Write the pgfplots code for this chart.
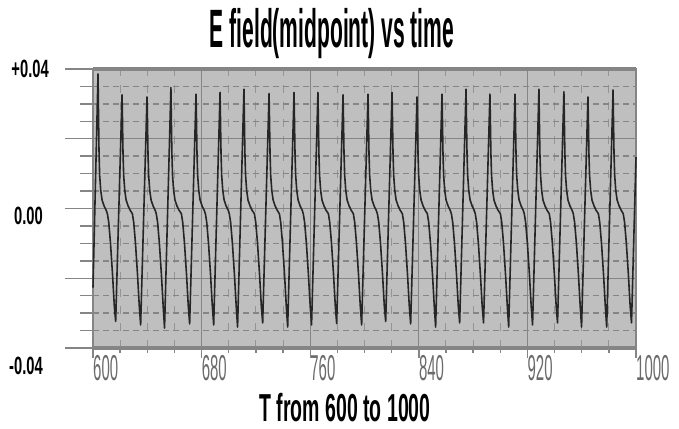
\documentclass[border=0pt]{standalone}
\usepackage{pgfplots}
\pgfplotsset{compat=1.18}
\usepackage{fontspec}
\setmainfont{Liberation Sans}
\newfontfamily\titlefont[FakeStretch=0.39]{Liberation Sans}
\newfontfamily\xlabfont[FakeStretch=0.5]{Liberation Sans}
\newfontfamily\ylabfont[FakeStretch=0.59]{Liberation Sans}
\newfontfamily\xtickfont[FakeStretch=0.416]{Liberation Sans}
\pgfplotstableread{
x y
600.0 -0.0227
603.7 0.0386
604.0 0.029
604.4 0.017
604.9 0.0095
605.7 0.0052
606.7 0.0024
608.2 0.0007
609.7 -0.0005
610.6 -0.0015
611.6 -0.004
612.9 -0.010
614.4 -0.019
615.7 -0.028
616.7 -0.0324
621.4 0.0326
621.7 0.026
622.1 0.016
622.6 0.0095
623.4 0.0052
624.4 0.0024
625.9 0.0007
627.4 -0.0005
629.0 -0.0015
630.0 -0.004
631.3 -0.010
632.8 -0.019
634.1 -0.028
635.1 -0.0334
639.8 0.032
640.1 0.026
640.5 0.016
641.0 0.0095
641.8 0.0052
642.8 0.0024
644.3 0.0007
645.8 -0.0005
646.6 -0.0015
647.6 -0.004
648.9 -0.010
650.4 -0.019
651.7 -0.028
652.7 -0.0343
657.4 0.0347
657.7 0.026
658.1 0.016
658.6 0.0095
659.4 0.0052
660.4 0.0024
661.9 0.0007
663.4 -0.0005
665.1 -0.0015
666.1 -0.004
667.4 -0.010
668.9 -0.019
670.2 -0.028
671.2 -0.0331
675.9 0.0328
676.2 0.026
676.6 0.016
677.1 0.0095
677.9 0.0052
678.9 0.0024
680.4 0.0007
681.9 -0.0005
682.8 -0.0015
683.8 -0.004
685.1 -0.010
686.6 -0.019
687.9 -0.028
688.9 -0.0334
693.6 0.0333
693.9 0.026
694.3 0.016
694.8 0.0095
695.6 0.0052
696.6 0.0024
698.1 0.0007
699.6 -0.0005
700.4 -0.0015
701.4 -0.004
702.7 -0.010
704.2 -0.019
705.5 -0.028
706.5 -0.034
711.2 0.0342
711.5 0.026
711.9 0.016
712.4 0.0095
713.2 0.0052
714.2 0.0024
715.7 0.0007
717.2 -0.0005
718.9 -0.0015
719.9 -0.004
721.2 -0.010
722.7 -0.019
724.0 -0.028
725.0 -0.0328
729.7 0.033
730.0 0.026
730.4 0.016
730.9 0.0095
731.7 0.0052
732.7 0.0024
734.2 0.0007
735.7 -0.0005
737.3 -0.0015
738.3 -0.004
739.6 -0.010
741.1 -0.019
742.4 -0.028
743.4 -0.034
748.1 0.0333
748.4 0.026
748.8 0.016
749.3 0.0095
750.1 0.0052
751.1 0.0024
752.6 0.0007
754.1 -0.0005
754.9 -0.0015
755.9 -0.004
757.2 -0.010
758.7 -0.019
760.0 -0.028
761.0 -0.0334
765.7 0.0333
766.0 0.026
766.4 0.016
766.9 0.0095
767.7 0.0052
768.7 0.0024
770.2 0.0007
771.7 -0.0005
773.4 -0.0015
774.4 -0.004
775.7 -0.010
777.2 -0.019
778.5 -0.028
779.5 -0.033
784.2 0.0326
784.5 0.026
784.9 0.016
785.4 0.0095
786.2 0.0052
787.2 0.0024
788.7 0.0007
790.2 -0.0005
791.8 -0.0015
792.8 -0.004
794.1 -0.010
795.6 -0.019
796.9 -0.028
797.9 -0.0334
802.6 0.0328
802.9 0.026
803.3 0.016
803.8 0.0095
804.6 0.0052
805.6 0.0024
807.1 0.0007
808.6 -0.0005
809.5 -0.0015
810.5 -0.004
811.8 -0.010
813.3 -0.019
814.6 -0.028
815.6 -0.0324
820.3 0.0333
820.6 0.026
821.0 0.016
821.5 0.0095
822.3 0.0052
823.3 0.0024
824.8 0.0007
826.3 -0.0005
827.9 -0.0015
828.9 -0.004
830.2 -0.010
831.7 -0.019
833.0 -0.028
834.0 -0.0331
838.7 0.032
839.0 0.026
839.4 0.016
839.9 0.0095
840.7 0.0052
841.7 0.0024
843.2 0.0007
844.7 -0.0005
846.3 -0.0015
847.3 -0.004
848.6 -0.010
850.1 -0.019
851.4 -0.028
852.4 -0.034
857.1 0.0328
857.4 0.026
857.8 0.016
858.3 0.0095
859.1 0.0052
860.1 0.0024
861.6 0.0007
863.1 -0.0005
864.0 -0.0015
865.0 -0.004
866.3 -0.010
867.8 -0.019
869.1 -0.028
870.1 -0.0328
874.8 0.0342
875.1 0.026
875.5 0.016
876.0 0.0095
876.8 0.0052
877.8 0.0024
879.3 0.0007
880.8 -0.0005
881.6 -0.0015
882.6 -0.004
883.9 -0.010
885.4 -0.019
886.7 -0.028
887.7 -0.0328
892.4 0.0328
892.7 0.026
893.1 0.016
893.6 0.0095
894.4 0.0052
895.4 0.0024
896.9 0.0007
898.4 -0.0005
900.1 -0.0015
901.1 -0.004
902.4 -0.010
903.9 -0.019
905.2 -0.028
906.2 -0.034
910.9 0.0328
911.2 0.026
911.6 0.016
912.1 0.0095
912.9 0.0052
913.9 0.0024
915.4 0.0007
916.9 -0.0005
917.7 -0.0015
918.7 -0.004
920.0 -0.010
921.5 -0.019
922.8 -0.028
923.8 -0.0334
928.5 0.0342
928.8 0.026
929.2 0.016
929.7 0.0095
930.5 0.0052
931.5 0.0024
933.0 0.0007
934.5 -0.0005
936.1 -0.0015
937.1 -0.004
938.4 -0.010
939.9 -0.019
941.2 -0.028
942.2 -0.0328
946.9 0.0335
947.2 0.026
947.6 0.016
948.1 0.0095
948.9 0.0052
949.9 0.0024
951.4 0.0007
952.9 -0.0005
953.8 -0.0015
954.8 -0.004
956.1 -0.010
957.6 -0.019
958.9 -0.028
959.9 -0.034
964.6 0.032
964.9 0.026
965.3 0.016
965.8 0.0095
966.6 0.0052
967.6 0.0024
969.1 0.0007
970.6 -0.0005
972.3 -0.0015
973.3 -0.004
974.6 -0.010
976.1 -0.019
977.4 -0.028
978.4 -0.034
983.1 0.034
983.4 0.026
983.8 0.016
984.3 0.0095
985.1 0.0052
986.1 0.0024
987.6 0.0007
989.1 -0.0005
990.6 -0.0015
991.6 -0.004
992.9 -0.010
994.4 -0.019
995.7 -0.028
996.7 -0.0328
1000.0 0.0147
}\efield
\begin{document}
\begin{tikzpicture}
\useasboundingbox (-93bp,-81bp) rectangle (586bp,348bp);
\begin{axis}[
  at={(0,0)}, anchor=south west,
  scale only axis, width=543bp, height=279bp,
  xmin=600, xmax=1000, ymin=-0.04, ymax=0.04,
  axis background/.style={fill=black!25},
  axis line style={draw=black!48, line width=1.5bp},
  tick align=outside, tick pos=left,
  xtick={600,680,760,840,920,1000},
  xticklabels={600,680,760,840,920,1000},
  minor x tick num=3,
  ytick={-0.04,-0.02,0,0.02,0.04},
  yticklabels={},
  minor y tick num=3,
  scaled ticks=false,
  major tick length=28bp, minor tick length=13bp,
  tick style={draw=black!48, line width=1.4bp},
  xtick style={/pgfplots/major tick length=10bp, /pgfplots/minor tick length=5bp},
  grid=both,
  major grid style={draw=black!48, line width=1.2bp, solid},
  minor x grid style={draw=black!42, line width=1bp, dash pattern=on 8bp off 9bp},
  minor y grid style={draw=black!48, line width=1.5bp, dash pattern=on 6bp off 4bp},
  xticklabel style={font=\xtickfont\fontsize{36bp}{36bp}\selectfont, text=black!58, anchor=north west, inner sep=0pt, yshift=21bp},
  clip=false,
]
\addplot[draw=black!85, line width=1.6bp, mark=none, line join=round] table[x=x, y=y] {\efield};
\draw[black!48, line width=3.5bp] (rel axis cs:0,1) -- (rel axis cs:1,1);
\draw[black!48, line width=3.5bp] (rel axis cs:0,0) -- (rel axis cs:1,0);
\end{axis}
\node[anchor=base, inner sep=0pt] at (239bp,300bp) {\titlefont\bfseries\fontsize{54bp}{55bp}\selectfont E field(midpoint) vs time};
\node[anchor=base, inner sep=0pt] at (252bp,-73bp) {\xlabfont\bfseries\fontsize{39bp}{40bp}\selectfont T from 600 to 1000};
\node[anchor=east, inner sep=0pt] at (-44bp,279bp) {\ylabfont\bfseries\fontsize{25bp}{26bp}\selectfont +0.04};
\node[anchor=east, inner sep=0pt] at (-50bp,132bp) {\ylabfont\bfseries\fontsize{25bp}{26bp}\selectfont 0.00};
\node[anchor=east, inner sep=0pt] at (-50bp,-18bp) {\ylabfont\bfseries\fontsize{25bp}{26bp}\selectfont -0.04};
\end{tikzpicture}
\end{document}
